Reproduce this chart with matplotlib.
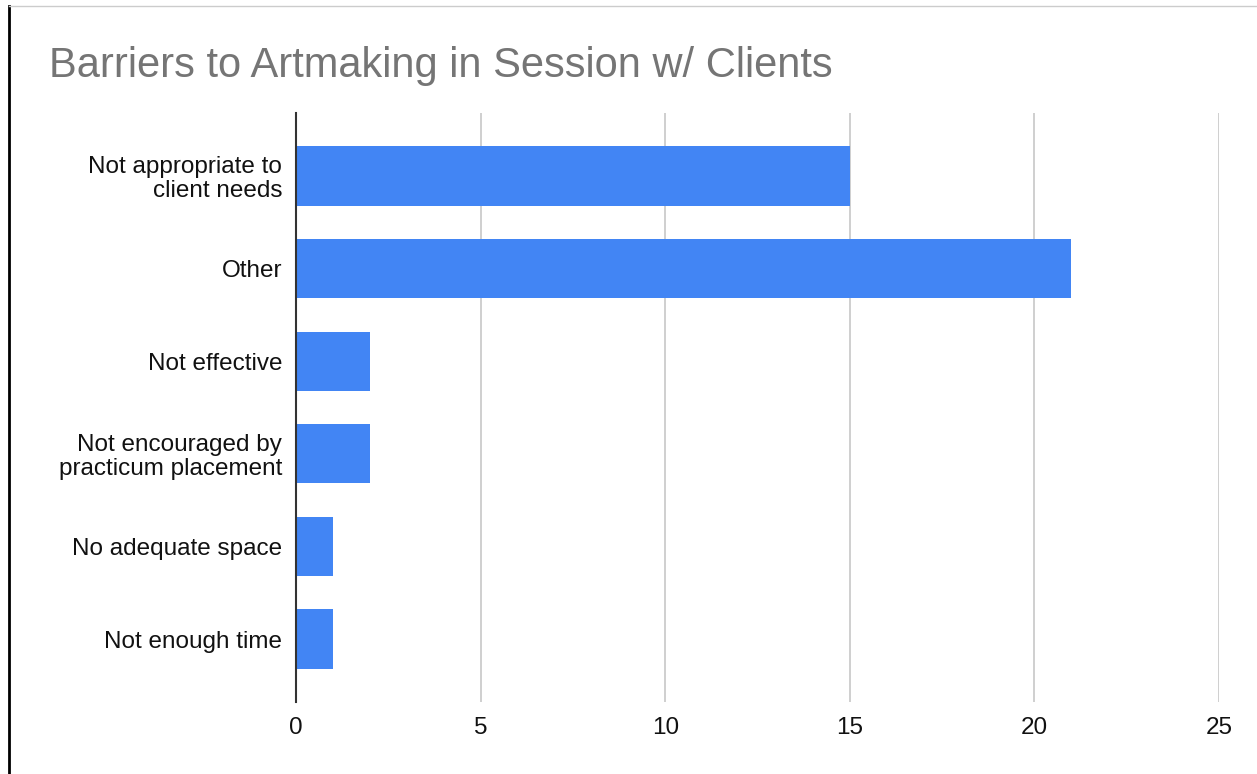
import matplotlib.pyplot as plt
from matplotlib.lines import Line2D

plt.rcParams['font.family'] = ['Liberation Sans', 'DejaVu Sans']

# Survey responses
categories = [
    'Not appropriate to\nclient needs',
    'Other',
    'Not effective',
    'Not encouraged by\npracticum placement',
    'No adequate space',
    'Not enough time',
]
counts = [15, 21, 2, 2, 1, 1]
xticks = [0, 5, 10, 15, 20, 25]

fig = plt.figure(figsize=(12.57, 7.74), dpi=100)
ax = fig.add_axes([296 / 1257, 72 / 774, 923 / 1257, 589 / 774])

y = list(range(len(categories)))
ax.barh(y, counts, height=0.64, color='#4285F4', zorder=3)

ax.set_xlim(0, 25)
ax.set_ylim(len(categories) - 1 + 0.68, -0.68)
ax.set_yticks(y)
ax.set_yticklabels(categories, fontsize=17.5, color='#111111', linespacing=1.1)
ax.set_xticks(xticks)
ax.set_xticklabels([str(t) for t in xticks], fontsize=17.5, color='#111111')
ax.tick_params(axis='y', length=0, pad=10)
ax.tick_params(axis='x', length=0, pad=11)

ax.grid(axis='x', color='#cccccc', linewidth=1.3, zorder=0)
for side in ['top', 'right', 'bottom']:
    ax.spines[side].set_visible(False)
ax.spines['left'].set_color('#333333')
ax.spines['left'].set_linewidth(1.5)
ax.spines['left'].set_zorder(4)

fig.text(49 / 1257, 1 - 66 / 774, 'Barriers to Artmaking in Session w/ Clients',
         fontsize=30, color='#757575', va='center', ha='left')

# page edges around the chart
fig.add_artist(Line2D([9 / 1257, 9 / 1257], [0, 1 - 6 / 774],
                      transform=fig.transFigure, color='black', linewidth=2))
fig.add_artist(Line2D([9 / 1257, 1], [1 - 6 / 774, 1 - 6 / 774],
                      transform=fig.transFigure, color='#cccccc', linewidth=1))

fig.savefig('out.png', dpi=100)
